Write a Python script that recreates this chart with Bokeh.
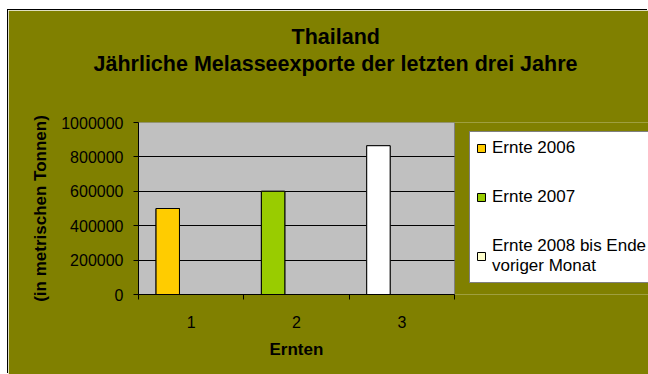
from bokeh.plotting import figure
from bokeh.models import (ColumnDataSource, Range1d, FixedTicker, NumeralTickFormatter,
                          Title, Legend, LegendItem)
from bokeh.transform import dodge
from bokeh.embed import file_html
from bokeh.resources import INLINE

# ---- data ----
categories = [1, 2, 3]
values = [500000, 600000, 865000]
series_names = ["Ernte 2006", "Ernte 2007", "Ernte 2008 bis Ende\nvoriger Monat"]
bar_colors = ["#FFCC00", "#99CC00", "#FFFFFF"]
legend_colors = ["#FFCC00", "#99CC00", "#FFFFCC"]
y_ticks = [0, 200000, 400000, 600000, 800000, 1000000]
grid_ticks = [200000, 400000, 600000, 800000]
x_tick_labels = ["1", "2", "3"]
title_lines = ["Thailand", "Jährliche Melasseexporte der letzten drei Jahre"]
x_title = "Ernten"
y_title = "(in metrischen Tonnen)"

FONT = "Liberation Sans"
OLIVE = "#808000"
W, H = 640, 364
LEFT = 130
PLOT_W = 316          # width of the grey plot area in px
FRAME_W = W - LEFT    # frame runs to the right edge (legend lives inside)

x0 = categories[0] - 0.5
x1 = categories[-1] + 0.5
x_end = x0 + (x1 - x0) * FRAME_W / PLOT_W

src = ColumnDataSource(dict(x=categories, top=values, color=bar_colors, lcolor=legend_colors))

p = figure(width=W, height=H, output_backend="svg", toolbar_location=None,
           x_range=Range1d(x0, x_end), y_range=Range1d(y_ticks[0], y_ticks[-1]),
           min_border_left=LEFT, min_border_right=0, min_border_top=112, min_border_bottom=80,
           background_fill_color=OLIVE, border_fill_color=OLIVE, outline_line_color=None,
           margin=(10, 0, 0, 8), styles={"box-shadow": "-1px -1px 0 0 #000000"})

# grey plot area
p.quad(left=x0, right=x1, bottom=y_ticks[0], top=y_ticks[-1], fill_color="#C0C0C0",
       line_color="#808080", line_width=1, level="image")

# legend proxies (hidden under the real bars), then the bars
proxy = p.vbar(x=dodge("x", -0.2222, range=p.x_range), top="top", bottom=0, width=0.2222,
               fill_color="lcolor", line_color="black", line_width=1, source=src)
p.vbar(x=dodge("x", -0.2222, range=p.x_range), top="top", bottom=0, width=0.2222,
       fill_color="color", line_color="black", line_width=1, source=src)

items = [LegendItem(label=name, renderers=[proxy], index=i) for i, name in enumerate(series_names)]
legend = Legend(items=items, location=(331, 11),
                border_line_color="black", border_line_width=1,
                background_fill_color="white", background_fill_alpha=1,
                label_text_font=FONT, label_text_font_size="17px", label_text_color="black",
                glyph_width=10, glyph_height=10, label_standoff=6,
                padding=6, spacing=29, label_width=170, margin=0)
p.add_layout(legend)

# axes
ya = p.yaxis[0]
ya.ticker = FixedTicker(ticks=y_ticks)
ya.formatter = NumeralTickFormatter(format="0")
ya.major_tick_out = 5
ya.major_tick_in = 0
ya.minor_tick_out = 0
ya.minor_tick_in = 0
ya.axis_line_color = "black"
ya.major_tick_line_color = "black"
ya.major_label_standoff = 10
ya.major_label_text_font = FONT
ya.major_label_text_font_size = "16px"
ya.major_label_text_color = "black"
ya.axis_label = y_title
ya.axis_label_text_font = FONT
ya.axis_label_text_font_size = "17px"
ya.axis_label_text_font_style = "bold"
ya.axis_label_text_color = "black"
ya.axis_label_standoff = 8

xa = p.xaxis[0]
xa.bounds = (x0, x1)
xa.ticker = FixedTicker(ticks=categories, minor_ticks=[c - 0.5 for c in categories] + [x1])
xa.major_label_overrides = {c: t for c, t in zip(categories, x_tick_labels)}
xa.major_tick_out = 0
xa.major_tick_in = 0
xa.minor_tick_out = 5
xa.minor_tick_in = 0
xa.minor_tick_line_color = "black"
xa.axis_line_color = "black"
xa.major_label_standoff = 16
xa.major_label_text_font = FONT
xa.major_label_text_font_size = "16px"
xa.major_label_text_color = "black"

p.xgrid.visible = False
p.ygrid.ticker = FixedTicker(ticks=grid_ticks)
p.ygrid.cross_bounds = (x0, x1)
p.ygrid.grid_line_color = "black"
p.ygrid.grid_line_width = 1

# x axis title, centred under the grey plot area
p.add_layout(Title(text=x_title, align="left", offset=131, standoff=14,
                   text_font=FONT, text_font_size="17px", text_font_style="bold",
                   text_color="black"), "below")

# chart title lines (nearest to the plot first)
p.add_layout(Title(text=title_lines[1], align="left", offset=-45, standoff=0,
                   padding=dict(left=0, right=0, top=0, bottom=47),
                   text_font=FONT, text_font_size="21.5px", text_font_style="bold",
                   text_color="black"), "above")
p.add_layout(Title(text=title_lines[0], align="left", offset=153, standoff=0,
                   padding=dict(left=0, right=0, top=0, bottom=1),
                   text_font=FONT, text_font_size="21.5px", text_font_style="bold",
                   text_color="black"), "above")

open("out.html", "w").write(file_html(p, INLINE))
